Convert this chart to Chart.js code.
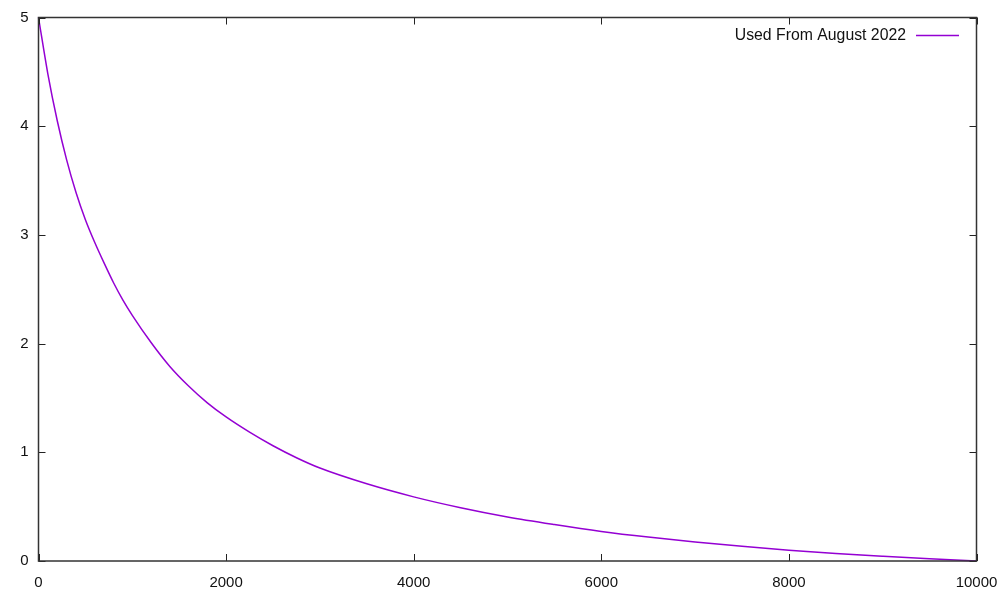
<!DOCTYPE html>
<html>
<head>
<meta charset="utf-8">
<script src="https://cdn.jsdelivr.net/npm/chart.js@4/dist/chart.umd.min.js"></script>
<style>
html,body{margin:0;padding:0;background:#fff;}
#c{display:block;}
</style>
</head>
<body>
<canvas id="c" width="1001" height="601"></canvas>
<script>
const seriesLabel = "Used From August 2022";
const xValues = [0, 100, 200, 300, 400, 500, 600, 700, 800, 900, 1000, 1200, 1400, 1600, 1800, 2000, 2250, 2500, 2750, 3000, 3500, 4000, 4500, 5000, 5500, 6000, 6500, 7000, 7500, 8000, 8500, 9000, 9500, 10000];
const yValues = [5.0, 4.48, 4.05, 3.69, 3.39, 3.14, 2.93, 2.74, 2.56, 2.40, 2.26, 2.01, 1.79, 1.61, 1.455, 1.325, 1.185, 1.06, 0.95, 0.855, 0.71, 0.59, 0.49, 0.405, 0.335, 0.272, 0.22, 0.175, 0.135, 0.10, 0.07, 0.044, 0.02, 0];
const xTicks = [0, 2000, 4000, 6000, 8000, 10000];
const yTicks = [0, 1, 2, 3, 4, 5];

const lineColor = "#9400d3";
const tickFont = {family: "Liberation Sans", size: 15};

const framePlugin = {
  id: "frame",
  afterDatasetsDraw(chart) {
    const {ctx, chartArea: a, scales} = chart;
    ctx.save();
    ctx.strokeStyle = "#222";
    ctx.lineWidth = 1;
    const L = 7;
    ctx.beginPath();
    xTicks.forEach(v => {
      const px = Math.round(scales.x.getPixelForValue(v)) + 0.5;
      ctx.moveTo(px, a.bottom); ctx.lineTo(px, a.bottom - L);
      ctx.moveTo(px, a.top); ctx.lineTo(px, a.top + L);
    });
    yTicks.forEach(v => {
      const py = Math.round(scales.y.getPixelForValue(v)) + 0.5;
      ctx.moveTo(a.left, py); ctx.lineTo(a.left + L, py);
      ctx.moveTo(a.right, py); ctx.lineTo(a.right - L, py);
    });
    ctx.stroke();
    ctx.lineWidth = 1.5;
    ctx.strokeStyle = "#333";
    ctx.strokeRect(a.left, a.top, a.right - a.left, a.bottom - a.top);
    // legend
    ctx.font = "15.8px 'Liberation Sans'";
    ctx.fillStyle = "#111";
    ctx.textAlign = "right";
    ctx.textBaseline = "middle";
    ctx.fillText(seriesLabel, 906, 36);
    ctx.strokeStyle = lineColor;
    ctx.lineWidth = 1.5;
    ctx.beginPath();
    ctx.moveTo(916, 35.5); ctx.lineTo(959, 35.5);
    ctx.stroke();
    ctx.restore();
  }
};

new Chart(document.getElementById("c"), {
  type: "line",
  data: {
    datasets: [{
      label: seriesLabel,
      data: xValues.map((x, i) => ({x: x, y: yValues[i]})),
      borderColor: lineColor,
      borderWidth: 1.5,
      pointRadius: 0,
      fill: false,
      cubicInterpolationMode: "monotone",
      clip: false
    }]
  },
  options: {
    responsive: false,
    animation: false,
    layout: {padding: {top: 17.5, right: 24.5, left: 0, bottom: 0}},
    plugins: {legend: {display: false}, tooltip: {enabled: false}},
    scales: {
      x: {
        type: "linear", min: 0, max: 10000,
        afterBuildTicks: s => { s.ticks = xTicks.map(v => ({value: v})); },
        afterFit: s => { s.height = 40; s.paddingLeft = 0; s.paddingRight = 0; },
        grid: {display: false, drawTicks: false},
        border: {display: false},
        ticks: {padding: 13, color: "#111", font: tickFont, maxRotation: 0, autoSkip: false,
                callback: v => String(v)}
      },
      y: {
        type: "linear", min: 0, max: 5,
        afterBuildTicks: s => { s.ticks = yTicks.map(v => ({value: v})); },
        afterFit: s => { s.width = 38.5; s.paddingTop = 0; s.paddingBottom = 0; },
        grid: {display: false, drawTicks: false},
        border: {display: false},
        ticks: {padding: 10, color: "#111", font: tickFont, callback: v => String(v)}
      }
    }
  },
  plugins: [framePlugin]
});
</script>
</body>
</html>
